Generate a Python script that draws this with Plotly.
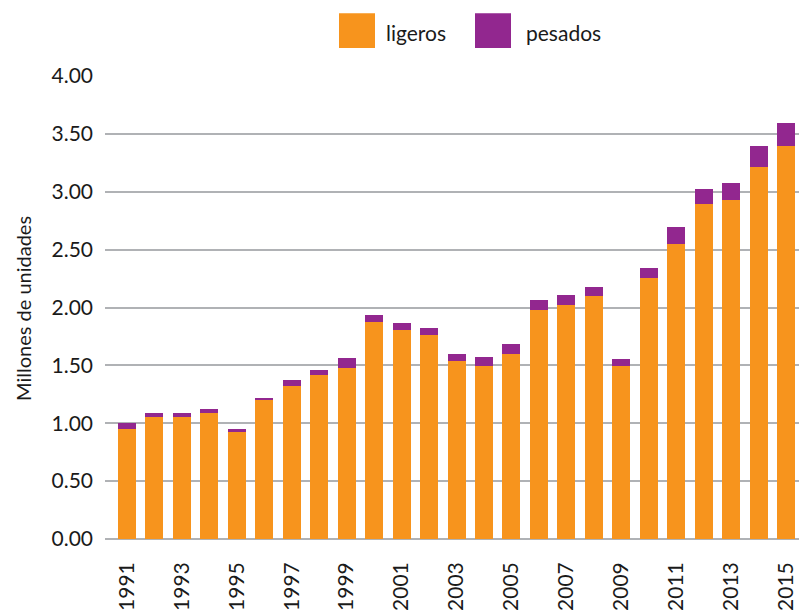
import plotly.graph_objects as go

years = list(range(1991, 2016))
ligeros = [0.95, 1.05, 1.05, 1.09, 0.927, 1.20, 1.32, 1.42, 1.48, 1.875, 1.806, 1.763, 1.54,
           1.496, 1.60, 1.978, 2.022, 2.10, 1.496, 2.254, 2.547, 2.892, 2.927, 3.211, 3.392]
pesados = [0.05, 0.035, 0.035, 0.035, 0.02, 0.02, 0.055, 0.04, 0.08, 0.06, 0.06, 0.06, 0.06,
           0.08, 0.085, 0.085, 0.085, 0.075, 0.06, 0.085, 0.145, 0.13, 0.145, 0.18, 0.20]
tick_years = list(range(1991, 2016, 2))
y_ticks = [0, 0.5, 1.0, 1.5, 2.0, 2.5, 3.0, 3.5, 4.0]

ORANGE = "#F7941D"
PURPLE = "#92278F"
FONT = "Lato"
TXT = "#1a1a1a"

W, H = 799, 611
L, R, T, B = 105, 0, 76, 70
pw, ph = W - L - R, H - T - B

def px_x(p):
    return (p - L) / pw

def px_y(p):
    return (H - B - p) / ph

fig = go.Figure()
fig.add_trace(go.Bar(x=years, y=ligeros, name="ligeros", marker=dict(color=ORANGE, line=dict(width=0))))
fig.add_trace(go.Bar(x=years, y=pesados, name="pesados", marker=dict(color=PURPLE, line=dict(width=0))))

shapes = []
annotations = []
for (x0, x1, color, label, tx) in [(339, 375, ORANGE, "ligeros", 384), (475, 511, PURPLE, "pesados", 524)]:
    shapes.append(dict(type="rect", xref="paper", yref="paper", x0=px_x(x0), x1=px_x(x1),
                       y0=px_y(48), y1=px_y(13), fillcolor=color, line=dict(width=0)))
    annotations.append(dict(text=label, xref="paper", yref="paper", x=px_x(tx), y=px_y(32),
                            xanchor="left", yanchor="middle", showarrow=False,
                            font=dict(family=FONT, size=21, color=TXT)))

annotations.append(dict(text="Millones de unidades", xref="paper", yref="paper", x=px_x(23), y=px_y(310),
                        xanchor="center", yanchor="middle", textangle=-90, showarrow=False,
                        font=dict(family=FONT, size=20, color=TXT)))

fig.update_layout(
    width=W, height=H,
    margin=dict(l=L, r=R, t=T, b=B, pad=0),
    barmode="stack", bargap=0.345,
    plot_bgcolor="white", paper_bgcolor="white",
    showlegend=False,
    shapes=shapes, annotations=annotations,
    font=dict(family=FONT, size=21, color=TXT),
    xaxis=dict(range=[1990.2, 2015.47], tickvals=tick_years, ticktext=[str(y) for y in tick_years],
               tickangle=-90, showgrid=False, zeroline=False, showline=False, ticks="",
               ticklabelstandoff=18, tickfont=dict(family=FONT, size=21, color=TXT)),
    yaxis=dict(range=[0, 4.0], tickvals=y_ticks, tickformat=".2f", showgrid=True,
               gridcolor="#b0b2b5", gridwidth=2, zeroline=True, zerolinecolor="#b0b2b5",
               zerolinewidth=2, showline=False, ticks="", ticklabelstandoff=11,
               tickfont=dict(family=FONT, size=21, color=TXT)),
)

fig.write_html(
    "out.html",
    config={"displayModeBar": False},
    post_script="document.body.style.margin='0';document.body.style.overflow='hidden';",
)
